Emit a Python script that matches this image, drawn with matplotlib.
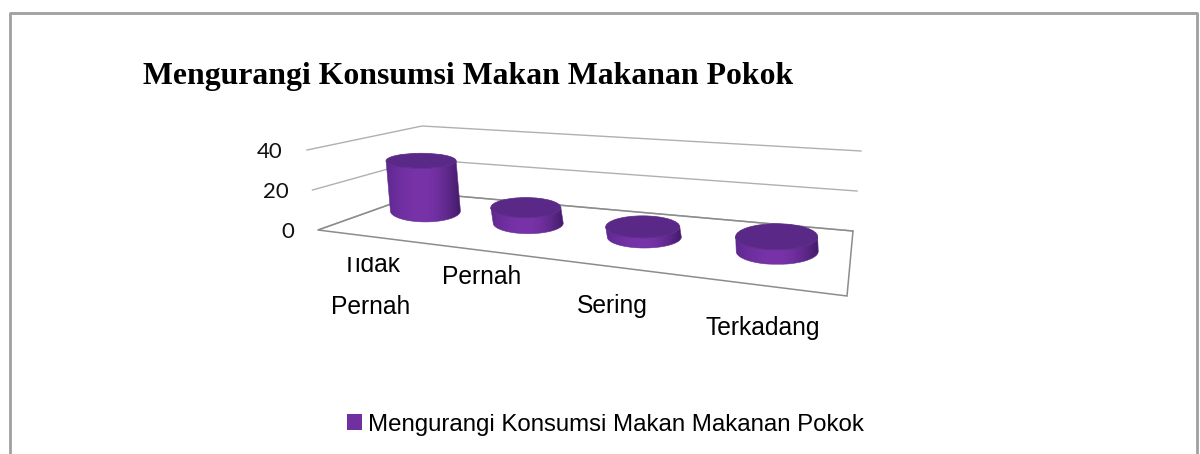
import numpy as np
import matplotlib
matplotlib.use("Agg")
import matplotlib.pyplot as plt
from matplotlib.patches import Ellipse, Patch, Polygon, Rectangle

title = "Mengurangi Konsumsi Makan Makanan Pokok"
categories = ["Tidak\nPernah", "Pernah", "Sering", "Terkadang"]
values = [27, 8, 5, 7]
y_ticks = [0, 20, 40]

# box corners in picture pixels: front left, front right, back right, back left
floor_px = [(318, 230), (847, 296), (853, 231), (422, 193)]
roof_px = [(307, 150), (859, 208), (861, 151), (422, 126)]
y_max = 40

# cylinder sizes and nudges in pixels, they grow towards the right like the source
cyl_rx = [35, 35, 37, 41]
cyl_ry = [11, 10.5, 11, 13]
cyl_top_ry = [7.5, 10, 11, 13]
cyl_dx = [-5.5, -3, -3, -6]
cyl_dy = [-2, 0, 2, 2.5]


def homography(quad):
    src = [(0, 0), (1, 0), (1, 1), (0, 1)]
    a, b = [], []
    for (u, v), (x, y) in zip(src, quad):
        a.append([u, v, 1, 0, 0, 0, -u * x, -v * x])
        a.append([0, 0, 0, u, v, 1, -u * y, -v * y])
        b += [x, y]
    return np.append(np.linalg.solve(np.array(a, float), np.array(b, float)), 1).reshape(3, 3)


H_floor = homography(floor_px)
H_roof = homography(roof_px)


def project(u, v, z=0):
    # category position u, depth v, value z -> picture pixels
    p = np.array([u, v, 1.0])
    f = H_floor @ p
    r = H_roof @ p
    f = f[:2] / f[2]
    r = r[:2] / r[2]
    return f + (r - f) * (z / y_max)


fig = plt.figure(figsize=(12, 4.54), dpi=100)
ax = fig.add_axes([0, 0, 1, 1])
ax.set_xlim(0, 1200)
ax.set_ylim(454, 0)
ax.autoscale(False)
ax.axis("off")

# frame of the chart, open at the bottom
ax.plot([9.5, 9.5, 1196.5, 1196.5], [454, 12.5, 12.5, 454], color="#a0a0a0", lw=2)

ax.text(143, 84, title, family="Liberation Serif", weight="bold", fontsize=22.9,
        va="baseline", ha="left", color="black")

# walls and floor
for z in y_ticks:
    front = project(0, 0, z)
    corner = project(0, 1, z)
    back = project(1, 1, z)
    ax.plot([front[0], corner[0], back[0]], [front[1], corner[1], back[1]],
            color="#b0b0b0", lw=1, zorder=1)
    ax.text(front[0] - 24, front[1] + 8.5, str(z), family="Lato", fontsize=16,
            ha="right", va="baseline", color="#111111")
ax.add_patch(Polygon(floor_px, closed=True, fill=False, edgecolor="#8c8c8c", lw=1.1, zorder=1))

# cylinders, side shading runs across x and is clipped to the outline
side_left = np.array([0.36, 0.15, 0.55])
side_mid = np.array([0.47, 0.20, 0.66])
side_right = np.array([0.27, 0.11, 0.42])
top_color = "#5a2887"
t = np.linspace(0, np.pi, 91)  # front half, y grows downwards
sx = np.linspace(-1, 1, 200)
for i, val in enumerate(values):
    uc = (i + 0.5) / len(values) + 0.015
    base = project(uc, 0.55, 0)
    top = project(uc, 0.55, val)
    lean = 0.55 * (top[0] - base[0])
    base[0] += cyl_dx[i]
    base[1] += cyl_dy[i]
    top[0] = base[0] + lean
    top[1] += cyl_dy[i]
    rx = cyl_rx[i]
    low = np.array([base[0] + rx * np.cos(t), base[1] + cyl_ry[i] * np.sin(t)])
    high = np.array([top[0] + rx * np.cos(t), top[1] + cyl_top_ry[i] * np.sin(t)])
    outline = np.hstack([low, high[:, ::-1]]).T

    w = np.clip(np.abs(sx + 0.05) ** 2.0, 0, 1)[:, None]
    shade = np.where(sx[:, None] < -0.05,
                     side_mid + (side_left - side_mid) * w,
                     side_mid + (side_right - side_mid) * w)
    x0, x1 = outline[:, 0].min(), outline[:, 0].max()
    y0, y1 = outline[:, 1].min(), outline[:, 1].max()
    im = ax.imshow(shade[None, :, :], extent=(x0, x1, y1, y0), aspect="auto",
                   interpolation="bilinear", zorder=2 + i)
    clip = Polygon(outline, closed=True, transform=ax.transData)
    im.set_clip_path(clip)
    ax.add_patch(Polygon(outline, closed=True, fill=False, edgecolor="#5f2d92", lw=0.4,
                         zorder=2 + i))
    ax.add_patch(Ellipse(top, 2 * rx, 2 * cyl_top_ry[i], facecolor=top_color,
                         edgecolor=top_color, lw=0.5, zorder=2 + i))

# category labels, the first one is cut at the top like the source
label_x = [371, 482, 612.5, 762.5]
label_y = [272, 284, 313, 335]
for x, y, name in zip(label_x, label_y, categories):
    if "\n" in name:
        first, second = name.split("\n")
        txt = ax.text(x, y, first, family="Liberation Sans", fontsize=17.7,
                      ha="center", va="baseline", color="black", clip_on=True)
        txt.set_clip_path(Rectangle((300, 256.5), 200, 40, transform=ax.transData))
        ax.text(x, y + 42, second, family="Liberation Sans", fontsize=17.7,
                ha="center", va="baseline", color="black")
    else:
        ax.text(x, y, name, family="Liberation Sans", fontsize=17.7,
                ha="center", va="baseline", color="black")

ax.legend(handles=[Patch(facecolor="#7030a0", label=title)], loc="center",
          bbox_to_anchor=(605, 424.5), bbox_transform=ax.transData, frameon=False,
          prop={"family": "Liberation Sans", "size": 17.3}, handlelength=0.62,
          handleheight=0.62, handletextpad=0.25)

fig.savefig("out.png", dpi=100)
